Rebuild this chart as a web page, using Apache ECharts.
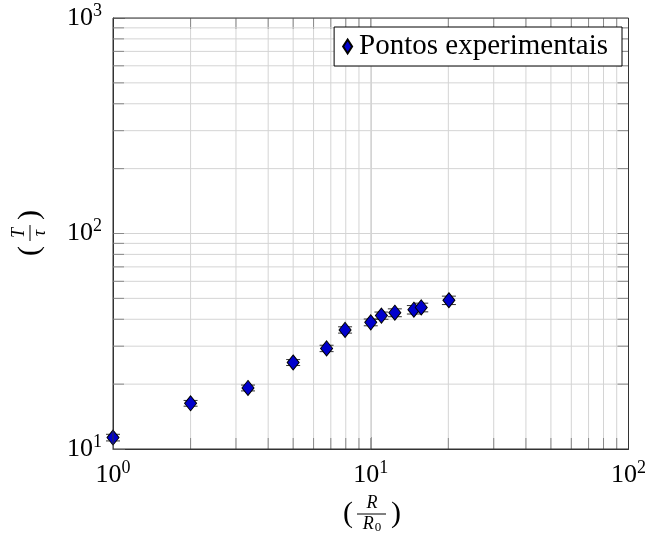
<!DOCTYPE html>
<html>
<head>
<meta charset="utf-8">
<script src="https://cdn.jsdelivr.net/npm/echarts@6/dist/echarts.min.js"></script>
<style>
  html, body { margin: 0; background: #fff; }
  #chart { width: 649px; height: 536px; }
</style>
</head>
<body>
<div id="chart"></div>
<script>
// dados
const ratio = [1.0, 2.0, 3.34, 5.0, 6.74, 7.95, 10.0, 11.0, 12.4, 14.7, 15.7, 20.1];
const period = [11.3, 16.3, 19.2, 25.2, 29.3, 35.7, 38.7, 41.6, 42.9, 44.3, 45.4, 49.0];
const periodErr = [0.4, 0.5, 0.6, 0.8, 1.0, 1.2, 1.4, 1.6, 1.8, 2.0, 2.1, 2.2];
const xMinor = [2, 3, 4, 5, 6, 7, 8, 9, 20, 30, 40, 50, 60, 70, 80, 90];
const yMinor = [20, 30, 40, 50, 60, 70, 80, 90, 200, 300, 400, 500, 600, 700, 800, 900];
const xMajor = [10];
const yMajor = [100];
const X_MIN = 1, X_MAX = 100, Y_MIN = 10, Y_MAX = 1000;

const FONT = 'Liberation Serif';
const GRID_COLOR = '#d4d4d4';
const TICK_COLOR = '#8a8a8a';

const chart = echarts.init(document.getElementById('chart'));

const powLabel = v => '{b|10}{s|' + Math.round(Math.log10(v)) + '}';
const labelRich = {
  b: { fontFamily: FONT, fontSize: 26, color: '#000' },
  s: { fontFamily: FONT, fontSize: 18, color: '#000', padding: [0, 0, 14, 0] }
};

// linhas de grade e marcas secundarias (verticais)
function renderVertical(params, api) {
  const v = api.value(0);
  const bottom = api.coord([v, Y_MIN]);
  const top = api.coord([v, Y_MAX]);
  const tickLen = 11;
  return {
    type: 'group',
    children: [
      { type: 'line', shape: { x1: bottom[0], y1: bottom[1], x2: top[0], y2: top[1] }, style: { stroke: GRID_COLOR, lineWidth: 1 } },
      { type: 'line', shape: { x1: bottom[0], y1: bottom[1], x2: bottom[0], y2: bottom[1] - tickLen }, style: { stroke: TICK_COLOR, lineWidth: 1 } },
      { type: 'line', shape: { x1: top[0], y1: top[1], x2: top[0], y2: top[1] + tickLen }, style: { stroke: TICK_COLOR, lineWidth: 1 } }
    ]
  };
}
function renderHorizontal(params, api) {
  const v = api.value(1);
  const left = api.coord([X_MIN, v]);
  const right = api.coord([X_MAX, v]);
  const tickLen = 11;
  return {
    type: 'group',
    children: [
      { type: 'line', shape: { x1: left[0], y1: left[1], x2: right[0], y2: right[1] }, style: { stroke: GRID_COLOR, lineWidth: 1 } },
      { type: 'line', shape: { x1: left[0], y1: left[1], x2: left[0] + tickLen, y2: left[1] }, style: { stroke: TICK_COLOR, lineWidth: 1 } },
      { type: 'line', shape: { x1: right[0], y1: right[1], x2: right[0] - tickLen, y2: right[1] }, style: { stroke: TICK_COLOR, lineWidth: 1 } }
    ]
  };
}
// barras de erro
function renderError(params, api) {
  const x = api.value(0), y = api.value(1), e = api.value(2);
  const hi = api.coord([x, y + e]);
  const lo = api.coord([x, y - e]);
  const w = 7;
  const st = { stroke: '#333', lineWidth: 1 };
  return {
    type: 'group',
    children: [
      { type: 'line', shape: { x1: hi[0], y1: hi[1], x2: lo[0], y2: lo[1] }, style: st },
      { type: 'line', shape: { x1: hi[0] - w, y1: hi[1], x2: hi[0] + w, y2: hi[1] }, style: st },
      { type: 'line', shape: { x1: lo[0] - w, y1: lo[1], x2: lo[0] + w, y2: lo[1] }, style: st }
    ]
  };
}

const option = {
  animation: false,
  grid: { left: 113, right: 17, top: 18, bottom: 87, show: true, borderColor: '#333', borderWidth: 1, backgroundColor: 'transparent', z: 10 },
  legend: {
    right: 27, top: 27,
    data: [{ name: 'Pontos experimentais', icon: 'diamond' }],
    itemWidth: 9, itemHeight: 14, itemGap: 4,
    padding: [5, 14, 5, 8],
    borderColor: '#000', borderWidth: 1, backgroundColor: '#fff',
    textStyle: { fontFamily: FONT, fontSize: 29, color: '#000', padding: [0, 0, 0, 2] }
  },
  xAxis: {
    type: 'log', logBase: 10, min: X_MIN, max: X_MAX,
    axisLine: { show: true, lineStyle: { color: '#333' } },
    axisTick: { show: true, inside: true, length: 12, lineStyle: { color: TICK_COLOR } },
    splitLine: { show: true, lineStyle: { color: GRID_COLOR } },
    axisLabel: { margin: 10, formatter: powLabel, rich: labelRich }
  },
  yAxis: {
    type: 'log', logBase: 10, min: Y_MIN, max: Y_MAX,
    axisLine: { show: true, lineStyle: { color: '#333' } },
    axisTick: { show: true, inside: true, length: 12, lineStyle: { color: TICK_COLOR } },
    splitLine: { show: true, lineStyle: { color: GRID_COLOR } },
    axisLabel: { margin: 11, formatter: powLabel, rich: labelRich }
  },
  series: [
    { type: 'custom', silent: true, renderItem: renderVertical, data: xMinor.concat(xMajor).map(v => [v, Y_MIN]), z: 1 },
    { type: 'custom', silent: true, renderItem: renderHorizontal, data: yMinor.concat(yMajor).map(v => [X_MIN, v]), z: 1 },
    { type: 'custom', silent: true, renderItem: renderError, data: ratio.map((r, i) => [r, period[i], periodErr[i]]), z: 3, clip: false },
    {
      name: 'Pontos experimentais',
      type: 'scatter',
      symbol: 'diamond',
      symbolSize: [12, 15],
      data: ratio.map((r, i) => [r, period[i]]),
      itemStyle: { color: '#0000cc', borderColor: '#000', borderWidth: 1, opacity: 1 },
      z: 5, clip: false
    }
  ],
  graphic: [
    {
      type: 'group', x: 372, y: 514,
      children: [
        { type: 'text', x: -24, y: 0, style: { text: '(', fontFamily: FONT, fontSize: 30, fill: '#000', align: 'center', verticalAlign: 'middle' } },
        { type: 'text', x: 0, y: -2, style: { text: 'R', fontFamily: FONT, fontStyle: 'italic', fontSize: 18, fill: '#000', align: 'center', verticalAlign: 'bottom' } },
        { type: 'line', shape: { x1: -15, y1: 0, x2: 14, y2: 0 }, style: { stroke: '#000', lineWidth: 1 } },
        { type: 'text', x: 0, y: 1, style: { text: '{i|R}{n|0}', fontFamily: FONT, fill: '#000', align: 'center', verticalAlign: 'top', rich: { i: { fontFamily: FONT, fontStyle: 'italic', fontSize: 18 }, n: { fontFamily: FONT, fontSize: 13, padding: [6, 0, 0, 1] } } } },
        { type: 'text', x: 24, y: 0, style: { text: ')', fontFamily: FONT, fontSize: 30, fill: '#000', align: 'center', verticalAlign: 'middle' } }
      ]
    },
    {
      type: 'group', x: 30, y: 233, rotation: Math.PI / 2,
      children: [
        { type: 'text', x: -18, y: 0, style: { text: '(', fontFamily: FONT, fontSize: 30, fill: '#000', align: 'center', verticalAlign: 'middle' } },
        { type: 'text', x: 0, y: -2, style: { text: 'T', fontFamily: FONT, fontStyle: 'italic', fontSize: 18, fill: '#000', align: 'center', verticalAlign: 'bottom' } },
        { type: 'line', shape: { x1: -8, y1: 0, x2: 8, y2: 0 }, style: { stroke: '#000', lineWidth: 1 } },
        { type: 'text', x: 0, y: 1, style: { text: 'τ', fontFamily: FONT, fontStyle: 'italic', fontSize: 18, fill: '#000', align: 'center', verticalAlign: 'top' } },
        { type: 'text', x: 18, y: 0, style: { text: ')', fontFamily: FONT, fontSize: 30, fill: '#000', align: 'center', verticalAlign: 'middle' } }
      ]
    }
  ]
};
chart.setOption(option);
</script>
</body>
</html>
